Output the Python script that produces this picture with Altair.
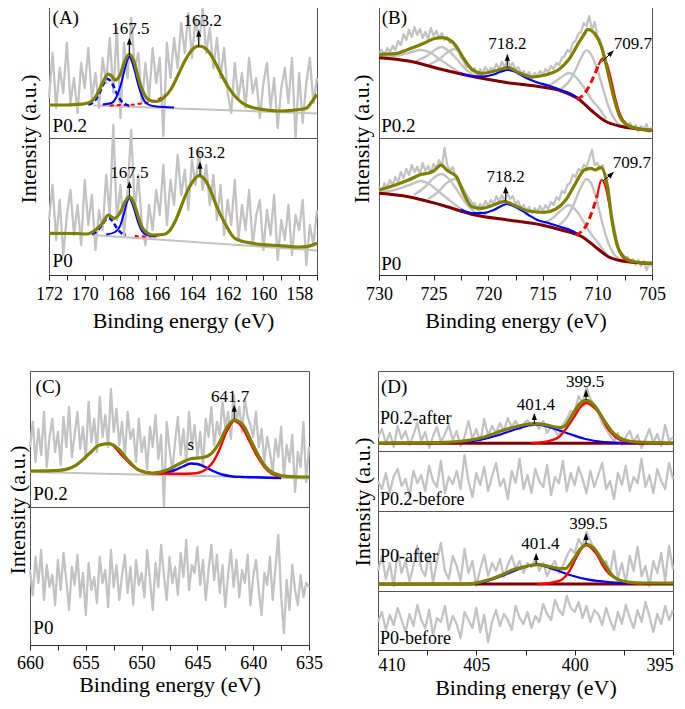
import altair as alt
import numpy as np
import pandas as pd

FONT = "'Liberation Serif', 'Times New Roman', 'DejaVu Serif', serif"
OLIVE = "#808000"
RAW_GRAY = "#c3c3c3"
COMP_GRAY = "#c3c3c3"
BLUE = "#0000ff"
RED = "#ff0000"
MAROON = "#800000"
FRAME = "#555555"
ARROW_PATH = "M0,-1L0.55,0.5L-0.55,0.5Z"
YTITLE = "Intensity (a.u.)"
XTITLE = "Binding energy (eV)"

# ---------------- Panel A : S 2p ----------------
A_E = np.linspace(172, 157, 76)
A1_RAW = [40, 85, 30, 70, 45, 95, 35, 60, 25, 75,
          50, 90, 40, 65, 30, 80, 55, 100, 45, 110,
          20, 95, 60, 120, 70, 85, 35, 75, 40, 90,
          55, 80, 2, 95, 60, 100, 70, 115, 85, 125,
          80, 120, 95, 130, 85, 110, 70, 100, 60, 90,
          45, 25, 75, 40, 65, 30, 80, 45, 60, 20,
          55, 75, 30, 60, 10, 50, 70, 35, 80, 0,
          65, 15, 55, 80, 35, 60]
A2_RAW = [55, 90, 35, 75, 20, 60, 85, 40, 70, 30,
          95, 50, 80, 25, 65, 45, 100, 60, 150, 55,
          90, 40, 85, 145, 65, 100, 50, 30, 70, 45,
          85, 60, 110, 50, 95, 70, 120, 80, 105, 65,
          115, 90, 125, 85, 110, 70, 100, 55, 90, 40,
          75, 50, 95, 35, 70, 45, 85, 30, 60, 75,
          25, 65, 40, 80, 15, 55, 35, 70, 20, 60,
          45, 75, 10, 50, 30, 65]

A1_ENV_E = [172, 171, 170.5, 170, 169.6, 169.3, 169.0, 168.7, 168.5, 168.3, 168.0, 167.8, 167.5, 167.2, 167.0,
            166.7, 166.4, 166.0, 165.6, 165.2, 164.8, 164.4, 164.0, 163.6, 163.2, 162.8, 162.4, 162.0, 161.5,
            161.0, 160.5, 160.0, 159.0, 158.0, 157.6, 157.3, 157.0]
A1_ENV_I = [33, 33, 33.5, 34.3, 37, 44, 55, 64, 62, 58, 64, 75, 84, 74, 60,
            45, 38, 36.5, 40, 48, 62, 77, 88, 92, 89, 79, 65, 52, 40,
            33, 30, 28.5, 27, 28.5, 29.7, 36, 43.7]
A1_BLUE_E = [169.0, 168.5, 168.2, 168.0, 167.8, 167.65, 167.5, 167.35, 167.2, 167.0, 166.8, 166.5, 166.0, 165.0]
A1_BLUE_I = [33.5, 35, 42, 52, 66, 76, 82, 76, 67, 53, 42, 34, 31.5, 30.5]
A1_BLUED_E = [169.8, 169.5, 169.2, 168.95, 168.7, 168.45, 168.2, 167.95, 167.7, 167.4]
A1_BLUED_I = [33.5, 36, 44, 54, 59, 54, 44, 37, 33.5, 32]
A1_RED_E = [168.6, 168.0, 167.4, 166.8, 166.3, 165.9, 165.5]
A1_RED_I = [32.5, 33, 33.3, 34.5, 36, 38.5, 43]
A1_BG_E = [169.5, 157]
A1_BG_I = [32.5, 24.5]

A2_ENV_E = [172, 170.5, 169.9, 169.4, 169.0, 168.68, 168.34, 168.0, 167.75, 167.5, 167.25, 167.0, 166.76, 166.2,
            165.6, 165.3, 164.9, 164.5, 164.2, 163.96, 163.6, 163.2, 162.9, 162.65, 162.1, 161.6, 160.6, 159.1,
            158.0, 157.6, 157.0]
A2_ENV_I = [41.7, 41.5, 41, 45, 52, 60, 56.7, 63, 73, 78.3, 72, 58, 46.7, 40,
            40.5, 43.3, 55, 73.3, 86, 93.3, 99.3, 93.3, 82, 70, 50, 36.7, 31.7, 29.3,
            28, 28.3, 31.7]
A2_BLUE_E = [168.8, 168.3, 168.0, 167.8, 167.65, 167.5, 167.35, 167.2, 167.0, 166.8, 166.5, 166.0]
A2_BLUE_I = [40.5, 43, 50, 62, 72, 77, 72, 64, 52, 44, 40, 38.5]
A2_BLUED_E = [169.6, 169.3, 169.0, 168.8, 168.65, 168.45, 168.2, 167.95, 167.7]
A2_BLUED_I = [41, 44, 51, 56, 57, 54, 47, 42, 40]
A2_RED_E = [167.2, 166.8, 166.4, 166.0, 165.7]
A2_RED_I = [39, 38.5, 38.5, 39, 40.5]
A2_BG_E = [169.6, 157]
A2_BG_I = [40, 24.5]

# ---------------- Panel B : Fe 2p ----------------
B_E = np.linspace(730, 705, 101)
B1_RAW = [85, 88, 83, 90, 86, 92, 88, 97, 93, 104,
          98, 108, 101, 111, 103, 109, 100, 106, 99, 110,
          102, 107, 100, 105, 98, 101, 95, 97, 90, 88,
          80, 77, 71, 73, 67, 70, 64, 69, 65, 71,
          66, 70, 68, 74, 69, 76, 71, 78, 72, 75,
          68, 71, 64, 67, 62, 66, 60, 65, 62, 67,
          63, 69, 66, 72, 69, 75, 73, 80, 82, 88,
          86, 95, 97, 104, 106, 115, 112, 122, 108, 116,
          102, 98, 88, 80, 65, 55, 42, 33, 24, 19,
          14, 12, 15, 9, 13, 7, 12, 8, 14, 6, 11]
B2_RAW = [88, 84, 92, 87, 95, 90, 98, 93, 103, 97,
          106, 100, 110, 103, 108, 101, 112, 104, 109, 102,
          111, 106, 115, 108, 127, 110, 104, 108, 99, 95,
          86, 80, 74, 76, 69, 72, 66, 71, 67, 74,
          69, 75, 71, 79, 73, 80, 74, 82, 76, 79,
          71, 74, 67, 70, 64, 68, 62, 67, 63, 69,
          64, 70, 66, 73, 70, 78, 75, 84, 82, 90,
          92, 100, 98, 106, 104, 110, 108, 116, 125, 110,
          112, 106, 110, 96, 88, 66, 50, 36, 26, 22,
          16, 18, 13, 16, 10, 15, 9, 14, 5, 12, 8]

B1_ENV_E = [730, 728.5, 727.3, 725.8, 724.9, 724.2, 723.6, 723.2, 722.7, 722.3, 721.5, 720.6, 719.4, 718.2, 717.2,
            716.0, 714.8, 713.5, 712.6, 711.7, 711.2, 710.9, 710.5, 710.2, 709.6, 709.0, 708.5, 707.9, 707.1,
            705.9, 705]
B1_ENV_I = [83.7, 84.3, 88.7, 95.3, 99.5, 100.3, 98.5, 95.3, 88, 80.3, 68.7, 64.7, 67, 70.3, 65.3,
            61, 63, 68.7, 78.7, 95.3, 104, 108.7, 107, 103.7, 90.3, 63.7, 40.3, 20.3, 12,
            8.7, 7.7]
B1_BG_E = [730, 727.3, 724.3, 721.2, 718.2, 715.1, 713.3, 711.7, 710.5, 709.3, 708.0, 706.5, 705]
B1_BG_I = [80.3, 77, 68.7, 61, 55.3, 51, 47, 38.7, 27, 17, 12, 9.3, 7.7]
B1_BLUE_E = [722.5, 721.5, 720.5, 719.5, 718.8, 718.2, 717.6, 717.0, 716.3, 715.5, 714.5, 713.5, 712.5, 711.8]
B1_BLUE_I = [64.5, 62, 61.5, 63.5, 66.5, 68, 66.5, 63, 59, 55.5, 52.5, 48.5, 44.5, 40]
B1_REDD_E = [711.9, 711.4, 710.9, 710.4, 709.9]
B1_REDD_I = [39, 42, 49, 60, 73]
B1_RED_E = [709.9, 709.5, 709.1, 708.7, 708.3, 707.9, 707.4, 707.0, 706.5]
B1_RED_I = [73, 79.7, 73, 56, 37, 23, 14.5, 11.5, 9.5]
B1_G1_E = [713.5, 713.0, 712.5, 712.0, 711.5, 711.0, 710.5, 710.0, 709.5, 709.0, 708.5, 708.0, 707.5]
B1_G1_I = [48, 52, 58, 68, 80, 87.7, 82, 68, 50, 32, 20, 13, 11]
B1_G2_E = [715.0, 714.2, 713.4, 712.6, 711.9, 711.2, 710.5, 709.8, 709.2]
B1_G2_I = [51, 54, 60, 65, 60, 50, 38, 29, 19]
B1_G4_E = [730, 729, 728, 727, 726.2, 725.4, 724.6, 723.8, 723.0, 722.3]
B1_G4_I = [81, 81.5, 83, 86, 88, 86, 80, 74, 68, 64]
B1_G5_E = [726.8, 725.8, 725.0, 724.3, 723.6, 722.8, 722.0, 721.2]
B1_G5_I = [76, 81, 87, 91, 87, 78, 68, 62]
B1_G6_E = [725.5, 724.6, 723.8, 723.1, 722.5, 721.8, 721.0, 720.2]
B1_G6_I = [73, 78, 85, 89, 84, 73, 64, 60]

B2_ENV_E = [730, 728.5, 727.3, 726.1, 725.5, 725.0, 724.3, 723.8, 723.3, 722.9, 722.3, 721.5, 720.6, 719.7, 718.5,
            717.5, 716.3, 714.9, 713.8, 712.9, 712.0, 711.2, 710.6, 710.2, 709.7, 709.1, 708.7, 708.2, 707.6,
            706.6, 705]
B2_ENV_I = [85, 90, 95, 100.7, 101.7, 104, 110, 105, 101.7, 98.3, 83.3, 68.3, 66.7, 69.3, 73.3,
            69.3, 64, 62.7, 66, 75, 91.7, 105, 106.7, 105, 107.7, 90, 56.7, 30, 18.3,
            13.3, 11.7]
B2_BG_E = [730, 727.3, 724.3, 721.2, 718.2, 715.1, 713.3, 711.4, 710.2, 709.0, 707.7, 706.2, 705]
B2_BG_I = [81.7, 78.3, 70, 60, 55, 50, 45, 38.3, 28.3, 18.3, 14, 12.3, 11.7]
B2_BLUE_E = [722.5, 721.5, 720.5, 719.5, 718.9, 718.3, 717.7, 717.0, 716.3, 715.5, 714.5, 713.5, 712.5, 711.8]
B2_BLUE_I = [65.5, 62, 62, 65, 68.5, 71, 69, 65, 60, 55, 52, 48.5, 45, 41]
B2_REDD_E = [712.0, 711.5, 711.0, 710.5, 710.0]
B2_REDD_I = [40, 43, 50, 63, 80]
B2_RED_E = [710.0, 709.6, 709.3, 708.9, 708.5, 708.1, 707.7, 707.2, 706.7]
B2_RED_I = [80, 95, 90, 70, 45, 27, 18, 14, 12.5]
B2_G1_E = [713.5, 713.0, 712.5, 712.0, 711.5, 711.0, 710.5, 710.0, 709.5, 709.0, 708.5, 708.0, 707.5]
B2_G1_I = [50, 55, 63, 75, 88, 96, 90, 72, 50, 32, 21, 16, 14]
B2_G2_E = [715.0, 714.2, 713.4, 712.6, 711.9, 711.2, 710.5, 709.8, 709.2]
B2_G2_I = [52, 56, 64, 70, 64, 52, 40, 30, 21]
B2_G4_E = [730, 729, 728, 727, 726.2, 725.4, 724.6, 723.8, 723.0, 722.3]
B2_G4_I = [83, 84, 87, 91, 94, 91, 84, 77, 70, 65]
B2_G5_E = [726.8, 725.8, 725.0, 724.3, 723.6, 722.8, 722.0, 721.2]
B2_G5_I = [80, 88, 97, 101, 96, 84, 71, 63]
B2_G6_E = [725.5, 724.6, 723.8, 723.1, 722.5, 721.8, 721.0, 720.2]
B2_G6_I = [76, 83, 92, 96, 90, 77, 66, 60]

# ---------------- Panel C : Mn 2p ----------------
C_E = np.linspace(660, 635, 101)
C1_RAW = [60, 85, 45, 78, 52, 95, 40, 70, 88, 55,
          75, 42, 90, 60, 100, 50, 72, 95, 58, 80,
          48, 105, 65, 88, 55, 110, 70, 92, 60, 118,
          75, 98, 62, 85, 50, 95, 68, 78, 45, 88,
          55, 70, 38, 80, 60, 92, 48, 72, 0, 85,
          58, 35, 65, 90, 52, 78, 45, 95, 60, 82,
          50, 75, 40, 88, 70, 100, 62, 85, 72, 105,
          80, 95, 68, 112, 85, 100, 75, 108, 90, 82,
          70, 95, 60, 78, 45, 70, 55, 35, 68, 50,
          80, 30, 62, 45, 72, 15, 55, 40, 85, 25, 60]
C2_RAW = [75, 50, 88, 62, 95, 45, 80, 58, 70, 40,
          85, 55, 92, 65, 35, 78, 60, 90, 48, 72,
          30, 82, 55, 68, 42, 88, 62, 75, 38, 95,
          58, 80, 45, 70, 90, 52, 78, 40, 85, 60,
          72, 48, 95, 65, 35, 82, 58, 100, 70, 45,
          88, 62, 78, 50, 92, 68, 105, 55, 80, 72,
          98, 60, 85, 45, 75, 100, 65, 90, 52, 80,
          38, 70, 95, 58, 85, 48, 75, 62, 90, 40,
          68, 85, 55, 30, 72, 60, 88, 45, 78, 110,
          50, 12, 65, 35, 80, 55, 40, 70, 48, 62, 58]
C1_ENV_E = [660, 657.4, 655.9, 654.7, 653.8, 653.0, 652.1, 651.2, 650.2, 649.0, 647.8, 646.6, 645.6, 644.5,
            643.8, 643.0, 642.4, 641.7, 640.9, 640.0, 639.1, 638.2, 637.0, 635]
C1_ENV_I = [36, 36.7, 41.7, 53.3, 61.7, 63.3, 58.3, 46.7, 36.7, 34, 36.7, 43.3, 48.3, 49.5,
            53, 65, 79, 87, 81.7, 61.7, 43.3, 34, 30.7, 30]
C1_BG_E = [660, 635]
C1_BG_I = [35, 28.5]
C1_BLUE_E = [648.5, 647.8, 647.0, 646.3, 645.6, 645.0, 644.3, 643.6, 642.8, 642.0, 641.0, 640.0, 638.5, 637.5]
C1_BLUE_I = [33.5, 34.5, 37, 40.5, 43.5, 43, 40, 36, 32.5, 30.8, 30, 29.7, 29.3, 29]
C1_RED_E = [652.5, 651.8, 651.0, 650.3, 649.5, 648.5, 647.5, 646.5, 645.5, 644.8, 644.2, 643.6, 643.0, 642.4,
            641.7, 641.0, 640.3, 639.6, 639.0, 638.3, 637.5]
C1_RED_I = [61, 52, 43, 37, 34, 33.5, 33.3, 33.3, 33.5, 34.5, 38, 45, 58, 75,
            86, 80, 65, 50, 40, 33, 30.5]

# ---------------- Panel D : N 1s ----------------
D_E = np.linspace(410, 395, 76)
D1_RAW = [14, 22, 8, 18, 4, 25, 12, 20, 6, 16,
          28, 10, 19, 3, 15, 24, 9, 17, 26, 11,
          20, 5, 14, 30, 12, 22, 8, 32, 15, 25,
          18, 28, 20, 33, 24, 30, 22, 27, 31, 25,
          28, 22, 30, 18, 25, 20, 15, 26, 32, 40,
          38, 55, 48, 64, 52, 45, 38, 28, 22, 15,
          10, 18, 6, 14, 20, 9, 16, 3, 12, 22,
          8, 17, 5, 26, 10, 14]
D2_RAW = [30, 22, 38, 18, 35, 42, 25, 32, 15, 40,
          28, 36, 20, 45, 30, 24, 50, 18, 34, 27,
          40, 22, 56, 30, 14, 38, 26, 44, 20, 35,
          48, 25, 32, 12, 40, 28, 52, 22, 36, 18,
          42, 30, 24, 46, 16, 34, 28, 50, 20, 38,
          26, 44, 32, 18, 40, 24, 36, 48, 22, 30,
          12, 38, 26, 45, 20, 34, 28, 52, 24, 36,
          18, 42, 30, 22, 48, 32]
D3_RAW = [20, 35, 12, 28, 5, 40, 18, 30, 10, 25,
          45, 22, 15, 38, 8, 30, 48, 20, 12, 35,
          25, 10, 42, 18, 30, 5, 22, 36, 15, 28,
          20, 32, 14, 26, 35, 22, 30, 18, 28, 24,
          32, 20, 28, 15, 24, 30, 18, 25, 35, 42,
          38, 52, 45, 59, 50, 42, 35, 25, 30, 18,
          40, 12, 28, 8, 35, 20, 44, 15, 25, 5,
          30, 18, 38, 10, 45, 22]
D4_RAW = [28, 38, 20, 35, 25, 42, 30, 18, 36, 24,
          45, 30, 22, 40, 15, 32, 28, 44, 20, 34,
          26, 12, 38, 30, 22, 42, 18, 35, 8, 28,
          40, 24, 36, 30, 20, 44, 32, 26, 38, 22,
          34, 28, 46, 36, 30, 50, 40, 35, 54, 42,
          38, 48, 32, 44, 28, 40, 36, 25, 42, 30,
          20, 38, 26, 45, 32, 22, 40, 28, 48, 34,
          18, 36, 26, 44, 30, 40]
D1_ENV_E = [410, 407, 405.3, 404.6, 404.1, 403.6, 403.05, 402.5, 402.0, 401.5, 401.0, 400.7, 400.4, 400.1,
            399.75, 399.4, 399.0, 398.5, 398.0, 397.5, 396.8, 395]
D1_ENV_I = [8, 8.5, 11, 14, 17.3, 21, 24, 26.5, 27.3, 26.3, 24, 23.5, 27, 37,
            47, 50.7, 45.7, 30.7, 17.3, 11.3, 9, 8]
D1_BLUE_E = [405.5, 404.6, 403.9, 402.9, 402.0, 401.2, 400.3, 399.5, 398.5, 397.5, 396.5]
D1_BLUE_I = [9, 12, 15.7, 22.3, 26.7, 23.3, 17.3, 12.3, 9, 8, 7.8]
D1_RED_E = [402.2, 401.2, 400.8, 400.5, 400.0, 399.7, 399.4, 399.1, 398.8, 398.3, 397.8, 397.1, 396.5]
D1_RED_I = [7.8, 10.7, 14, 20.7, 35, 44, 48, 45, 39, 22.3, 12.3, 8.7, 8]
D1_BG_E = [410, 395]
D1_BG_I = [7.7, 7.7]
D3_ENV_E = [410, 405.5, 404.8, 404.2, 403.6, 403.2, 402.5, 401.9, 401.2, 400.8, 400.5, 400.1, 399.7, 399.4,
            399.0, 398.5, 398.0, 397.3, 396.5, 395]
D3_ENV_I = [6.7, 7, 9, 12.3, 17, 20.7, 24.5, 26.7, 24, 22.5, 22.3, 30.7, 42.3, 46.7,
            42.3, 27.3, 14, 9, 8, 8]
D3_BLUE_E = [405.2, 404.6, 403.9, 403.2, 402.5, 401.9, 401.0, 400.2, 399.3, 398.1, 397]
D3_BLUE_I = [7.5, 9, 13.5, 19, 24, 26, 21.3, 15.7, 11.3, 8.7, 7.5]
D3_RED_E = [401.9, 400.8, 400.5, 400.3, 399.9, 399.65, 399.4, 399.15, 398.9, 398.4, 397.8, 397.1, 396.5]
D3_RED_I = [6.7, 10, 14, 19, 34, 42.5, 45.7, 43, 37.3, 20.7, 11.3, 8, 7.3]
D3_BG_E = [410, 395]
D3_BG_I = [7, 7]

# ---------------- annotations: (E_start, I_start, E_head, I_head, angle) ----------------
A1_ARROWS = [(167.5, 83, 167.5, 95.5, 0), (163.62, 91, 163.62, 103.5, 0)]
A2_ARROWS = [(167.5, 79, 167.5, 89.3, 0), (163.55, 100, 163.55, 108.7, 0)]
B1_ARROWS = [(718.25, 70.5, 718.25, 79.5, 0), (709.6, 76, 708.8, 84.4, 45)]
B2_ARROWS = [(718.4, 74, 718.4, 84, 0), (709.5, 94, 708.8, 100, 47)]
C1_ARROWS = [(641.7, 88, 641.7, 97.5, 0)]
D1_ARROWS = [(399.42, 51, 399.42, 56.7, 0), (402.05, 27, 402.05, 33.3, 0)]
D3_ARROWS = [(399.42, 47, 399.42, 53.3, 0), (401.96, 27, 401.96, 33.3, 0)]

A1_NUM = (["167.5", "163.2"], [167.45, 163.4], [104, 112])
A2_NUM = (["167.5", "163.2"], [167.5, 163.2], [97.3, 116.7])
B1_NUM = (["718.2"], [718.25], [88.7])
B2_NUM = (["718.2"], [718.4], [93.3])
B1_LEFTNUM = (["709.7"], [708.5], [88.7])
B2_LEFTNUM = (["709.7"], [708.6], [106.7])
C1_NUM = (["641.7", "s"], [642.06, 645.6], [105.5, 57])
D1_NUM = (["399.5", "401.4"], [399.47, 401.97], [64, 40.7])
D3_NUM = (["399.5", "401.4"], [399.3, 401.75], [62.3, 42.3])

A1_TAGS = (["(A)", "P0.2"], [171.8, 171.8], [113.7, 6.3])
A2_TAGS = (["P0"], [171.8], [8.3])
B1_TAGS = (["(B)", "P0.2"], [729.75, 729.8], [114, 6])
B2_TAGS = (["P0"], [729.8], [5])
C1_TAGS = (["(C)", "P0.2"], [659.5, 659.7], [114, 7.5])
C2_TAGS = (["P0"], [659.7], [11.3])
D1_TAGS = (["(D)"], [409.85], [58])
D1_SAMPLE = (["P0.2-after"], [409.9], [27.5])
D2_SAMPLE = (["P0.2-before"], [409.9], [5.7])
D3_SAMPLE = (["P0-after"], [409.9], [29])
D4_SAMPLE = (["P0-before"], [409.9], [5.7])


# ---------------- helpers ----------------
def L(E, I, color, width, dash=None, interp="monotone"):
    df = pd.DataFrame({"E": list(E), "I": list(I)})

    def make(X, Y):
        kw = {"color": color, "strokeWidth": width, "interpolate": interp, "strokeJoin": "round"}
        if dash is not None:
            kw["strokeDash"] = dash
        return [alt.Chart(df).mark_line(**kw).encode(x=X, y=Y)]
    return make


def T(spec, size, align="center"):
    texts, E, I = spec
    df = pd.DataFrame({"E": E, "I": I, "t": texts})

    def make(X, Y):
        return [alt.Chart(df).mark_text(font=FONT, fontSize=size, align=align, baseline="alphabetic",
                                        color="black").encode(x=X, y=Y, text="t:N")]
    return make


def ARW(arrows):
    def make(X, Y):
        out = []
        for (e1, i1, e2, i2, ang) in arrows:
            rdf = pd.DataFrame({"E": [e1], "I": [i1], "E2": [e2], "I2": [i2]})
            hdf = pd.DataFrame({"E": [e2], "I": [i2]})
            out.append(alt.Chart(rdf).mark_rule(color="black", strokeWidth=1).encode(
                x=X, x2=alt.X2("E2"), y=Y, y2=alt.Y2("I2")))
            pk = {"shape": ARROW_PATH, "filled": True, "color": "black", "size": 90, "opacity": 1,
                  "strokeWidth": 0}
            if ang:
                pk["angle"] = ang
            out.append(alt.Chart(hdf).mark_point(**pk).encode(x=X, y=Y))
        return out
    return make


def YT(dx, dy, left_edge):
    """Rotated y title beside the frame, plus an invisible rule fixing the column's left bound."""
    tdf = pd.DataFrame({"t": [YTITLE]})

    def make(X, Y):
        title = alt.Chart(tdf).mark_text(font=FONT, fontSize=22, angle=270, align="center",
                                         baseline="middle", color="black").encode(
            x=alt.value(dx), y=alt.value(dy), text="t:N")
        bound = alt.Chart(tdf).mark_rule(opacity=0, strokeWidth=1).encode(
            x=alt.value(left_edge), y=alt.value(0), y2=alt.value(5))
        return [title, bound]
    return make


def sub(xdom, w, h, makers, axis_vals=None, step=None, lab_pad=5, tit_pad=7, flush=False):
    xs = alt.Scale(domain=xdom, reverse=True, nice=False, zero=False)
    ys = alt.Scale(domain=[0, h], nice=False, zero=False)
    if axis_vals is None:
        X = alt.X("E:Q", scale=xs, axis=None)
    else:
        X = alt.X("E:Q", scale=xs, axis=alt.Axis(
            values=axis_vals, labelExpr=f"datum.value % {step} == 0 ? datum.label : ''",
            title=XTITLE, labelPadding=lab_pad, titlePadding=tit_pad, labelFlush=flush))
    Y = alt.Y("I:Q", scale=ys, axis=None)
    layers = []
    for m in makers:
        layers += m(X, Y)
    return alt.layer(*layers).properties(width=w, height=h)


def spacer(w):
    sdf = pd.DataFrame({"t": [""]})
    return alt.Chart(sdf).mark_rule(opacity=0).encode(
        x=alt.value(0), y=alt.value(0), y2=alt.value(1)
    ).properties(width=w, height=1, view=alt.ViewBackground(stroke="transparent", strokeWidth=0))


RAWW = 2.3
ENVW = 3.2

# ---------------- panel A ----------------
A_TICKS = list(range(157, 173))
A1 = sub([157, 172], 268, 136, [
    YT(-20, 137, -47),
    L(A_E, A1_RAW, RAW_GRAY, RAWW, interp="linear"),
    L(A1_BG_E, A1_BG_I, COMP_GRAY, 2, interp="linear"),
    L(A1_RED_E, A1_RED_I, RED, 2, dash=[4, 3]),
    L(A1_BLUED_E, A1_BLUED_I, BLUE, 2.5, dash=[5, 3]),
    L(A1_BLUE_E, A1_BLUE_I, BLUE, 2),
    L(A1_ENV_E, A1_ENV_I, OLIVE, ENVW),
    ARW(A1_ARROWS), T(A1_NUM, 17), T(A1_TAGS, 19, "left"),
])
A2 = sub([157, 172], 268, 137, [
    L(A_E, A2_RAW, RAW_GRAY, RAWW, interp="linear"),
    L(A2_BG_E, A2_BG_I, COMP_GRAY, 2, interp="linear"),
    L(A2_RED_E, A2_RED_I, RED, 2, dash=[4, 3]),
    L(A2_BLUED_E, A2_BLUED_I, BLUE, 2.5, dash=[5, 3]),
    L(A2_BLUE_E, A2_BLUE_I, BLUE, 2),
    L(A2_ENV_E, A2_ENV_I, OLIVE, ENVW),
    ARW(A2_ARROWS), T(A2_NUM, 17), T(A2_TAGS, 19, "left"),
], axis_vals=A_TICKS, step=2)

# ---------------- panel B ----------------
B_TICKS = [705 + 2.5 * k for k in range(11)]


def b_layers(extra, raw, bg, g1, g2, g4, g5, g6, blue, redd, red, env, arrows, num, leftnum, tags):
    return extra + [
        L(B_E, raw, RAW_GRAY, RAWW, interp="linear"),
        L(*g4, COMP_GRAY, 2.4), L(*g5, COMP_GRAY, 2.4), L(*g6, COMP_GRAY, 2.4),
        L(*g1, COMP_GRAY, 2.4), L(*g2, COMP_GRAY, 2.4),
        L(*bg, MAROON, 3),
        L(*blue, BLUE, 2.2),
        L(*redd, RED, 3, dash=[7, 4]),
        L(*red, RED, 2.2),
        L(*env, OLIVE, ENVW),
        ARW(arrows), T(num, 17), T(leftnum, 17, "left"), T(tags, 19, "left"),
    ]


B1 = sub([705, 730], 273, 136, b_layers(
    [YT(-17, 137, -35)],
    B1_RAW, (B1_BG_E, B1_BG_I), (B1_G1_E, B1_G1_I), (B1_G2_E, B1_G2_I), (B1_G4_E, B1_G4_I),
    (B1_G5_E, B1_G5_I), (B1_G6_E, B1_G6_I), (B1_BLUE_E, B1_BLUE_I), (B1_REDD_E, B1_REDD_I),
    (B1_RED_E, B1_RED_I), (B1_ENV_E, B1_ENV_I), B1_ARROWS, B1_NUM, B1_LEFTNUM, B1_TAGS))
B2 = sub([705, 730], 273, 137, b_layers(
    [],
    B2_RAW, (B2_BG_E, B2_BG_I), (B2_G1_E, B2_G1_I), (B2_G2_E, B2_G2_I), (B2_G4_E, B2_G4_I),
    (B2_G5_E, B2_G5_I), (B2_G6_E, B2_G6_I), (B2_BLUE_E, B2_BLUE_I), (B2_REDD_E, B2_REDD_I),
    (B2_RED_E, B2_RED_I), (B2_ENV_E, B2_ENV_I), B2_ARROWS, B2_NUM, B2_LEFTNUM, B2_TAGS),
    axis_vals=B_TICKS, step=5)

# ---------------- panel C ----------------
C_TICKS = [635 + 2.5 * k for k in range(11)]
C1 = sub([635, 660], 279, 136, [
    YT(-12, 139, -28),
    L(C_E, C1_RAW, RAW_GRAY, RAWW, interp="linear"),
    L(C1_BG_E, C1_BG_I, COMP_GRAY, 2, interp="linear"),
    L(C1_BLUE_E, C1_BLUE_I, BLUE, 2.4),
    L(C1_RED_E, C1_RED_I, RED, 2.4),
    L(C1_ENV_E, C1_ENV_I, OLIVE, ENVW),
    ARW(C1_ARROWS), T(C1_NUM, 17), T(C1_TAGS, 19, "left"),
])
C2 = sub([635, 660], 279, 138, [
    L(C_E, C2_RAW, RAW_GRAY, RAWW, interp="linear"),
    T(C2_TAGS, 19, "left"),
], axis_vals=C_TICKS, step=5, lab_pad=4, tit_pad=2)

# ---------------- panel D ----------------
D_TICKS = [395 + 2.5 * k for k in range(7)]
D1 = sub([395, 410], 295, 80, [
    YT(-15, 131, -35),
    L(D_E, D1_RAW, RAW_GRAY, RAWW, interp="linear"),
    L(D1_BG_E, D1_BG_I, MAROON, 3, interp="linear"),
    L(D1_BLUE_E, D1_BLUE_I, BLUE, 2.2),
    L(D1_RED_E, D1_RED_I, RED, 2.4),
    L(D1_ENV_E, D1_ENV_I, OLIVE, ENVW),
    ARW(D1_ARROWS), T(D1_NUM, 17), T(D1_TAGS, 19, "left"), T(D1_SAMPLE, 18, "left"),
])
D2 = sub([395, 410], 295, 60, [
    L(D_E, D2_RAW, RAW_GRAY, RAWW, interp="linear"),
    T(D2_SAMPLE, 18, "left"),
])
D3 = sub([395, 410], 295, 80, [
    L(D_E, D3_RAW, RAW_GRAY, RAWW, interp="linear"),
    L(D3_BG_E, D3_BG_I, MAROON, 3, interp="linear"),
    L(D3_BLUE_E, D3_BLUE_I, BLUE, 2.2),
    L(D3_RED_E, D3_RED_I, RED, 2.4),
    L(D3_ENV_E, D3_ENV_I, OLIVE, ENVW),
    ARW(D3_ARROWS), T(D3_NUM, 17), T(D3_SAMPLE, 18, "left"),
])
D4 = sub([395, 410], 295, 59, [
    L(D_E, D4_RAW, RAW_GRAY, RAWW, interp="linear"),
    T(D4_SAMPLE, 18, "left"),
], axis_vals=D_TICKS, step=5, lab_pad=1, tit_pad=3, flush=True)

# ---------------- layout ----------------
colA = alt.vconcat(A1, A2, spacing=0, bounds="flush")
colB = alt.vconcat(B1, B2, spacing=0, bounds="flush")
colC = alt.vconcat(C1, C2, spacing=0, bounds="flush")
colD = alt.vconcat(D1, D2, D3, D4, spacing=0, bounds="flush")

top = alt.hconcat(spacer(1), alt.hconcat(colA, colB, spacing=23), spacing=0)
bottom = alt.hconcat(spacer(1), alt.hconcat(colC, colD, spacing=19), spacing=0)

chart = alt.vconcat(top, bottom, spacing=38).properties(
    padding={"left": -8, "top": -7, "right": 0, "bottom": 0}
).configure(font=FONT).configure_view(
    stroke=FRAME, strokeWidth=1
).configure_axis(
    labelFont=FONT, labelFontSize=18, labelColor="black", tickColor="#222222", tickSize=5, tickWidth=1,
    domain=True, domainColor="#333333", grid=False, titleFont=FONT, titleFontSize=22,
    titleFontWeight="normal", titleColor="black", labelOverlap=False
)

chart.save("out.html", embed_options={"renderer": "svg", "actions": False})
